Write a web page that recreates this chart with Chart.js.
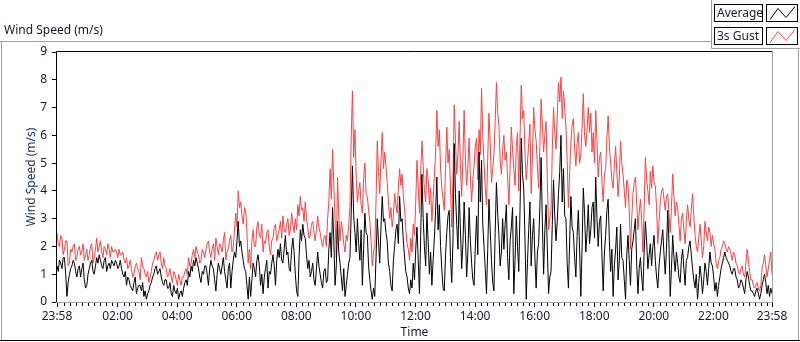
<!DOCTYPE html>
<html lang="en">
<head>
<meta charset="UTF-8">
<title>Wind Speed</title>
<script src="https://cdn.jsdelivr.net/npm/chart.js"></script>
<style>
  html, body { margin: 0; padding: 0; background: #fff; }
  #chart { display: block; }
</style>
</head>
<body>
<canvas id="chart" width="800" height="342"></canvas>
<script>
// axis ticks (minutes from midnight, start is 23:58 of the previous day)
const tickMinutes = [-2, 120, 240, 360, 480, 600, 720, 840, 960, 1080, 1200, 1320, 1438];
const tickLabels = ['23:58', '02:00', '04:00', '06:00', '08:00', '10:00', '12:00',
                    '14:00', '16:00', '18:00', '20:00', '22:00', '23:58'];
const seriesNames = ['Average', '3s Gust'];

// 2.5 minute samples, one row per hour
const average = [
  1.3,1.1, 1.5,1.4, 1.2,1.6, 1.6,1.0, 0.2,0.7, 1.0,1.2, 1.3,1.5, 1.4,1.1, 0.9,1.2, 1.3,0.9, 1.2,1.4, 0.8,0.5,
  0.6,1.0, 1.2,1.4, 1.5,1.1, 1.0,1.3, 1.6,1.4, 1.7,1.5, 1.3,1.2, 1.5,1.6, 1.1,1.3, 1.4,1.2, 1.5,1.4, 1.3,1.5,
  1.4,1.2, 1.3,1.5, 1.2,1.0, 0.9,1.1, 0.6,0.9, 0.8,0.6, 0.5,0.4, 0.7,0.9, 0.3,0.5, 0.6,0.6, 0.4,0.7, 0.2,0.4,
  0.1,0.3, 0.4,0.6, 0.7,0.9, 1.0,1.2, 1.3,1.0, 1.1,1.2, 0.9,0.7, 0.6,0.8, 0.8,0.5, 0.5,0.7, 0.3,0.2, 0.6,0.4,
  0.3,0.5, 0.1,0.3, 0.4,0.2, 0.5,0.7, 0.8,0.6, 1.1,0.9, 1.3,1.1, 1.5,1.3, 1.6,1.4, 1.2,0.9, 0.7,1.1, 1.0,1.3,
  1.3,1.0, 0.6,1.2, 1.5,1.3, 1.2,0.8, 0.4,1.0, 1.4,1.2, 1.0,1.3, 1.6,1.1, 0.8,0.5, 1.2,1.4, 0.5,1.1, 1.5,1.8,
  1.6,2.2, 2.9,2.0, 2.2,1.8, 1.5,1.2, 1.1,0.6, 0.1,0.9, 0.2,0.8, 1.4,1.2, 0.9,1.5, 1.7,1.3, 0.6,1.0, 0.3,0.9,
  1.2,1.5, 0.5,1.1, 1.0,1.4, 1.7,1.3, 0.6,1.5, 1.9,1.6, 2.1,1.5, 1.4,1.9, 2.4,1.7, 1.8,1.2, 1.1,1.9, 2.3,1.8,
  1.0,0.4, 0.2,1.6, 2.6,2.2, 2.8,2.4, 2.3,1.7, 1.2,1.5, 0.9,1.1, 1.4,0.8, 0.6,1.2, 1.8,1.3, 1.0,0.7, 0.5,1.1,
  1.2,0.7, 0.8,1.9, 2.5,1.6, 3.4,2.2, 0.6,1.3, 2.9,1.8, 1.4,0.9, 0.4,1.2, 0.2,0.6, 1.0,1.4, 1.6,3.2, 4.9,3.1,
  2.5,1.8, 3.0,2.1, 1.5,2.6, 0.6,1.9, 3.2,2.5, 2.4,1.3, 0.8,0.4, 0.1,0.5, 0.2,1.6, 3.0,2.2, 1.4,2.7, 3.8,2.9,
  3.0,2.5, 2.2,1.4, 1.1,0.6, 0.4,1.5, 2.0,2.6, 2.8,2.1, 3.8,2.9, 3.0,2.2, 1.6,1.1, 0.9,0.5, 0.3,0.8, 0.5,1.4,
  0.8,1.9, 2.7,1.5, 0.3,2.4, 4.6,3.0, 2.0,1.3, 3.2,2.2, 1.0,1.8, 0.6,1.5, 2.3,3.3, 4.5,2.6, 3.5,2.0, 1.2,0.5,
  0.4,1.7, 2.5,3.1, 3.3,1.6, 0.7,2.2, 5.7,3.9, 2.8,1.9, 4.0,2.6, 1.2,2.1, 3.6,2.4, 0.9,1.8, 3.4,2.2, 1.4,0.8,
  0.6,2.0, 3.1,1.7, 5.4,3.6, 5.1,2.8, 2.0,1.2, 0.3,1.9, 3.7,2.6, 1.5,0.7, 0.4,2.5, 4.3,3.2, 2.4,1.3, 1.8,3.0,
  1.9,2.8, 3.5,1.6, 0.8,2.2, 2.7,3.4, 0.3,1.5, 3.1,2.0, 1.1,3.3, 5.9,4.6, 4.1,2.3, 0.1,1.4, 2.6,3.6, 1.3,2.4,
  3.0,1.6, 0.5,1.8, 2.1,3.4, 5.2,2.9, 1.0,2.6, 3.5,1.9, 0.3,0.9, 1.1,2.8, 4.4,3.1, 2.2,2.9, 3.9,4.7, 6.0,3.6,
  4.8,3.1, 3.0,1.4, 0.5,2.2, 3.8,2.7, 2.5,1.6, 0.9,2.4, 3.3,1.9, 0.2,2.0, 4.1,3.2, 1.8,2.5, 3.5,2.1, 2.6,3.4,
  3.6,2.3, 4.5,3.0, 2.0,2.9, 3.1,1.7, 0.4,1.8, 2.4,3.3, 3.7,2.2, 1.1,1.9, 0.2,1.3, 1.9,2.7, 0.8,1.5, 2.8,1.6,
  1.5,0.8, 0.1,1.7, 2.4,1.5, 0.6,1.9, 2.2,2.6, 3.0,1.4, 0.3,1.2, 1.6,0.9, 0.4,1.8, 2.9,2.2, 1.2,1.7, 2.1,1.3,
  2.0,2.4, 1.5,0.9, 0.5,1.3, 1.8,2.2, 2.6,1.7, 1.0,1.9, 3.3,2.1, 0.2,1.2, 2.4,1.6, 1.1,1.8, 1.4,0.9, 0.7,1.5,
  1.9,1.2, 0.6,1.5, 1.6,2.0, 2.2,1.7, 1.2,0.8, 0.5,1.0, 0.1,0.7, 1.3,0.9, 0.3,0.8, 1.4,1.1, 0.6,1.2, 1.8,1.4,
  1.3,0.9, 0.4,0.7, 0.2,0.6, 0.9,1.2, 1.4,1.6, 1.8,1.6, 1.5,1.4, 1.3,1.1, 1.0,1.2, 1.2,0.9, 0.8,0.5, 0.6,0.8,
  0.7,0.5, 0.3,0.8, 1.1,0.9, 0.6,0.4, 0.4,0.3, 0.2,0.4, 0.5,0.3, 0.1,0.3, 0.6,0.8, 1.0,0.7, 0.3,0.6, 0.2,0.5,
  0.3
];
const gust = [
  2.5,2.1, 2.0,2.4, 2.3,1.7, 1.9,2.2, 2.2,1.3, 1.4,1.9, 1.8,2.0, 2.1,1.5, 1.6,1.9, 2.0,1.7, 1.8,2.1, 1.5,1.7,
  1.9,1.5, 1.7,2.0, 2.1,1.4, 1.6,1.9, 2.3,1.8, 2.0,2.2, 1.8,1.6, 2.0,1.9, 1.7,2.1, 1.9,1.6, 2.0,1.8, 1.8,1.9,
  1.8,1.6, 1.9,1.7, 1.7,1.8, 1.5,1.4, 1.6,1.2, 1.3,1.5, 1.2,0.9, 1.0,1.3, 1.4,1.2, 1.1,0.8, 1.6,1.3, 1.2,1.0,
  0.9,1.1, 0.7,0.9, 1.1,1.4, 1.5,1.7, 1.8,1.5, 1.7,1.8, 1.4,1.2, 1.6,1.3, 1.2,0.9, 1.0,1.2, 0.9,0.7, 1.1,1.0,
  0.8,0.6, 1.0,0.8, 0.6,0.9, 0.9,1.1, 1.2,1.0, 1.6,1.3, 1.4,1.7, 1.9,1.6, 2.0,1.8, 1.7,1.4, 1.5,1.9, 1.8,1.6,
  1.9,2.1, 2.2,1.8, 1.6,1.9, 2.1,1.5, 2.3,2.0, 1.7,2.1, 2.0,1.8, 2.2,2.5, 1.5,1.8, 1.9,2.2, 2.4,1.8, 2.0,2.6,
  3.2,2.7, 4.0,3.4, 3.6,3.1, 2.8,3.4, 3.3,2.5, 1.4,1.9, 1.2,2.2, 2.6,2.0, 2.0,2.7, 2.9,2.4, 2.3,2.8, 1.8,2.2,
  2.1,2.5, 2.6,2.0, 1.7,2.2, 2.3,2.7, 2.8,2.2, 2.4,2.6, 2.9,2.3, 3.1,2.6, 2.5,2.8, 3.0,2.4, 2.6,3.2, 2.8,2.5,
  3.0,2.6, 3.5,3.1, 3.8,3.3, 3.4,2.9, 3.6,3.0, 2.7,2.3, 2.4,2.8, 2.9,2.5, 2.2,2.6, 3.1,2.7, 2.5,2.2, 2.0,2.3,
  2.4,2.0, 3.0,3.6, 4.8,3.7, 5.5,4.2, 3.0,1.6, 4.5,3.1, 2.2,2.9, 2.6,2.1, 1.8,2.4, 2.2,2.8, 3.4,5.9, 7.6,5.2,
  6.2,4.5, 3.6,4.0, 4.3,3.5, 3.2,4.4, 5.0,3.9, 3.8,3.3, 2.9,2.2, 1.3,1.8, 2.0,3.6, 5.8,4.7, 3.9,5.1, 6.1,4.8,
  5.4,4.9, 4.3,3.6, 3.0,3.4, 2.7,3.1, 3.9,3.5, 3.2,4.1, 4.8,4.2, 4.6,3.8, 3.4,2.6, 2.1,1.9, 1.5,2.3, 1.8,2.8,
  2.4,3.6, 5.1,4.2, 3.2,4.7, 5.8,4.9, 4.0,3.6, 4.8,4.4, 3.5,4.1, 2.9,3.7, 4.5,5.4, 6.9,5.6, 6.2,4.8, 4.1,3.7,
  3.3,4.8, 6.3,5.0, 5.5,4.1, 2.7,4.4, 7.1,5.8, 4.6,5.3, 6.5,4.9, 3.8,5.2, 6.9,5.1, 4.2,4.9, 5.9,4.5, 3.6,4.4,
  4.9,5.6, 5.9,4.4, 6.2,5.3, 7.7,6.0, 5.0,4.1, 3.5,5.2, 6.8,5.7, 4.3,4.8, 5.3,6.5, 7.9,6.8, 6.4,5.1, 4.6,5.5,
  6.0,5.1, 5.4,4.5, 3.5,4.8, 6.3,5.5, 4.8,4.2, 5.6,6.1, 4.0,5.9, 7.8,6.6, 6.9,5.3, 4.4,5.0, 5.7,6.4, 3.9,5.2,
  7.0,6.2, 5.8,4.9, 4.1,5.6, 7.3,6.4, 5.4,6.0, 6.5,4.4, 2.6,3.0, 3.3,5.5, 7.0,6.1, 5.5,6.7, 7.9,7.2, 8.1,6.6,
  7.6,7.0, 6.3,5.1, 3.4,4.7, 5.8,6.4, 6.6,5.5, 4.9,5.7, 6.1,5.0, 5.3,6.3, 7.5,6.0, 5.6,6.2, 7.0,6.1, 6.8,5.4,
  6.1,5.0, 6.9,5.8, 4.5,5.2, 5.4,4.3, 3.6,4.6, 4.8,5.9, 6.7,5.6, 5.0,4.4, 4.1,4.9, 5.6,4.7, 3.8,4.5, 5.8,5.0,
  4.6,4.0, 3.4,4.4, 4.2,3.3, 1.9,3.0, 3.9,4.3, 4.5,3.6, 2.6,3.2, 3.7,2.9, 1.8,3.4, 5.2,4.4, 4.0,3.5, 4.7,4.1,
  4.9,4.3, 4.2,3.4, 2.1,2.9, 3.6,4.0, 4.1,3.7, 3.3,3.8, 3.9,3.2, 2.5,3.4, 4.6,3.8, 3.1,3.6, 3.4,2.8, 2.2,3.0,
  3.2,2.6, 2.1,2.9, 3.5,3.0, 2.7,3.3, 3.9,3.1, 2.4,2.0, 1.8,2.3, 2.8,2.2, 1.6,2.0, 2.9,2.5, 2.2,2.7, 2.5,2.0,
  2.4,2.1, 1.9,1.4, 1.2,1.5, 1.6,1.9, 2.0,2.2, 2.1,1.9, 1.8,2.0, 1.9,1.7, 1.5,1.8, 1.7,1.4, 1.3,1.1, 1.0,1.2,
  1.3,1.0, 0.9,1.4, 1.9,1.5, 1.1,0.8, 0.8,0.6, 0.5,0.6, 0.7,0.5, 0.4,0.6, 1.2,1.4, 1.7,1.3, 0.9,1.2, 1.5,1.8,
  1.0
];

const FONT = '"Noto Sans", "Open Sans", sans-serif';
const TEXT = '#141a2e';
const RED = '#ff3f3f';

// sample times spread evenly over the day
const times = average.map((v, i) => -2 + i * 1440 / (average.length - 1));
const toPoints = arr => arr.map((v, i) => ({ x: times[i], y: v }));

// frame, legend, plot box and minor ticks in the LabVIEW style
const labviewFrame = {
  id: 'labviewFrame',
  afterDraw(chart) {
    const ctx = chart.ctx;
    const a = chart.chartArea;
    const xs = chart.scales.x;
    ctx.save();
    ctx.lineWidth = 1;

    // outer frame
    ctx.strokeStyle = '#a0a0a0';
    ctx.beginPath();
    ctx.moveTo(0, 41.5); ctx.lineTo(711.5, 41.5);
    ctx.moveTo(1.5, 41.5); ctx.lineTo(1.5, 341);
    ctx.moveTo(711.5, 0); ctx.lineTo(711.5, 48.5);
    ctx.moveTo(711.5, 48.5); ctx.lineTo(800, 48.5);
    ctx.moveTo(798.5, 48.5); ctx.lineTo(798.5, 341);
    ctx.stroke();
    ctx.strokeStyle = '#000';
    ctx.beginPath();
    ctx.moveTo(0, 340.5); ctx.lineTo(800, 340.5);
    ctx.stroke();

    // plot box: dark top/left, grey bottom/right
    ctx.strokeStyle = '#000';
    ctx.beginPath();
    ctx.moveTo(a.left - 0.5, a.bottom); ctx.lineTo(a.left - 0.5, a.top - 0.5);
    ctx.lineTo(a.right + 0.5, a.top - 0.5);
    ctx.stroke();
    ctx.strokeStyle = '#a0a0a0';
    ctx.beginPath();
    ctx.moveTo(a.left - 1, a.bottom + 0.5); ctx.lineTo(a.right + 0.5, a.bottom + 0.5);
    ctx.lineTo(a.right + 0.5, a.top - 1);
    ctx.stroke();

    // minor time ticks every 12 minutes
    ctx.strokeStyle = '#000';
    ctx.beginPath();
    for (let m = 12; m < 1438; m += 12) {
      if (m % 120 === 0) continue;
      const px = Math.round(xs.getPixelForValue(m)) + 0.5;
      ctx.moveTo(px, a.bottom + 1); ctx.lineTo(px, a.bottom + 4);
    }
    ctx.stroke();

    // graph caption
    ctx.fillStyle = TEXT;
    ctx.font = '12px ' + FONT;
    ctx.textBaseline = 'middle';
    ctx.textAlign = 'left';
    ctx.fillText('Wind Speed (m/s)', 4, 31);

    // legend
    const colors = ['#000', RED];
    seriesNames.forEach((name, i) => {
      const y = 4.5 + i * 23;
      ctx.fillStyle = '#fff';
      ctx.fillRect(714.5, y, 48, 17);
      ctx.fillRect(766.5, y, 31, 17);
      ctx.strokeStyle = '#000';
      ctx.strokeRect(714.5, y, 48, 17);
      ctx.strokeRect(766.5, y, 31, 17);
      ctx.fillStyle = TEXT;
      ctx.fillText(name, 717, y + 9);
      ctx.strokeStyle = colors[i];
      ctx.beginPath();
      ctx.moveTo(770, y + 15); ctx.lineTo(778, y + 4);
      ctx.lineTo(786, y + 13); ctx.lineTo(795, y + 2);
      ctx.stroke();
    });
    ctx.restore();
  }
};

new Chart(document.getElementById('chart'), {
  type: 'line',
  data: {
    datasets: [
      { label: seriesNames[0], data: toPoints(average), borderColor: '#000', borderWidth: 1 },
      { label: seriesNames[1], data: toPoints(gust), borderColor: RED, borderWidth: 1 }
    ]
  },
  options: {
    responsive: false,
    animation: false,
    devicePixelRatio: 1,
    layout: { padding: { left: 0, right: 28, top: 52, bottom: 0 } },
    elements: { point: { radius: 0 }, line: { tension: 0 } },
    plugins: { legend: { display: false }, tooltip: { enabled: false } },
    scales: {
      x: {
        type: 'linear',
        min: -2,
        max: 1438,
        afterBuildTicks: scale => { scale.ticks = tickMinutes.map(v => ({ value: v })); },
        afterFit: scale => { scale.height = 40; },
        border: { display: false },
        grid: { drawOnChartArea: false, tickLength: 5, tickColor: '#000' },
        ticks: {
          autoSkip: false, maxRotation: 0, padding: 2, color: TEXT,
          font: { family: FONT, size: 12 },
          callback: (v, i) => tickLabels[i]
        },
        title: {
          display: true, text: 'Time', color: TEXT,
          font: { family: FONT, size: 12 }, padding: { top: 0, bottom: 2 }
        }
      },
      y: {
        min: 0,
        max: 9,
        afterFit: scale => { scale.width = 57; },
        border: { display: false },
        grid: { drawOnChartArea: false, tickLength: 5, tickColor: '#000' },
        ticks: { stepSize: 1, padding: 5, color: TEXT, font: { family: FONT, size: 12 } },
        title: {
          display: true, text: 'Wind Speed (m/s)', color: '#1c2c55',
          font: { family: FONT, size: 12 }, padding: { top: 24, bottom: 0 }
        }
      }
    }
  },
  plugins: [labviewFrame]
});
</script>
</body>
</html>
